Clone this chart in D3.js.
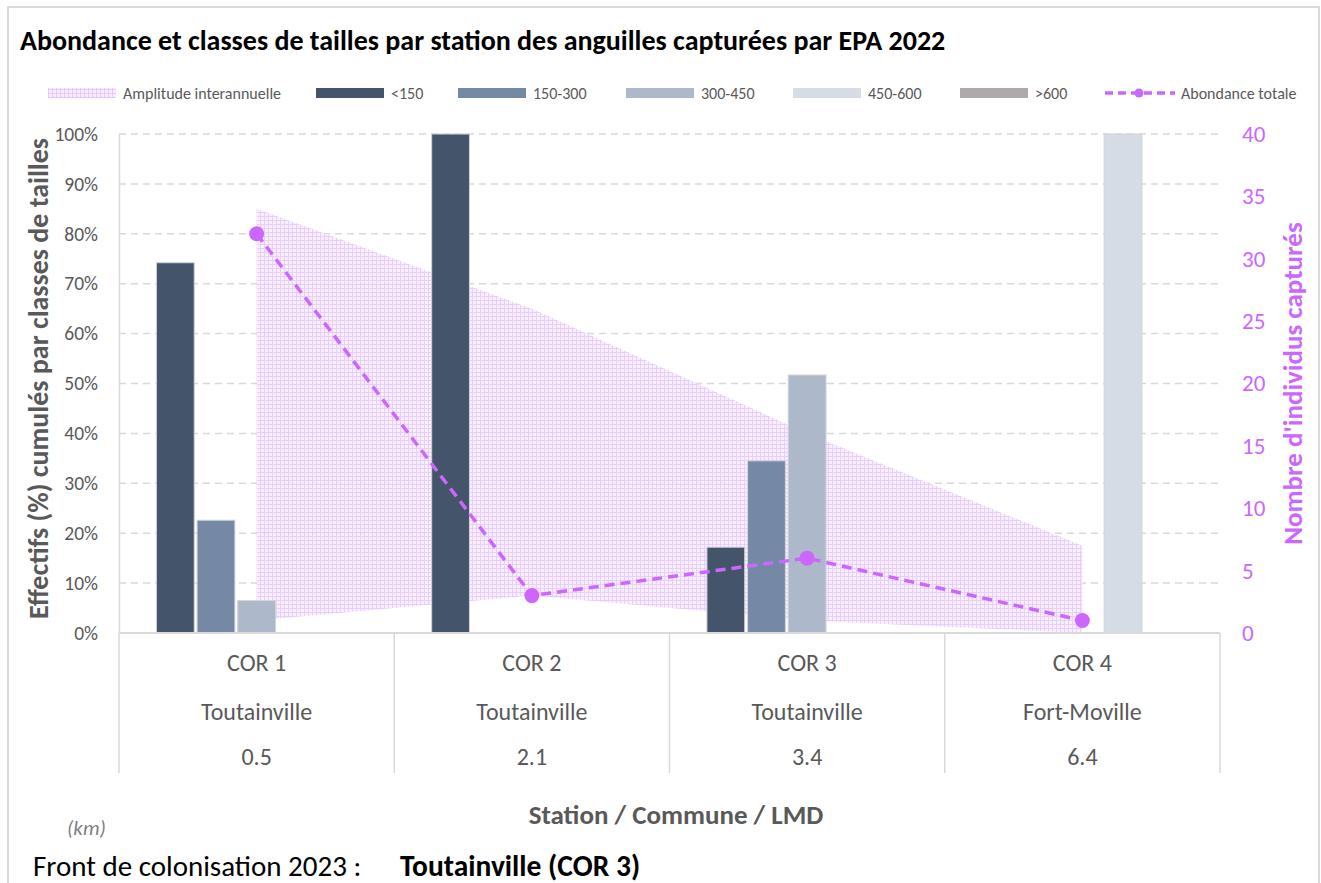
<!DOCTYPE html>
<html>
<head>
<meta charset="utf-8">
<script src="https://cdn.jsdelivr.net/npm/d3@7"></script>
<style>
  body { margin: 0; background: #fff; }
  svg text { font-family: Carlito, Calibri, Lato, "Open Sans", sans-serif; }
</style>
</head>
<body>
<div id="chart"></div>
<script>
// Data
const stations = ["COR 1", "COR 2", "COR 3", "COR 4"];
const communes = ["Toutainville", "Toutainville", "Toutainville", "Fort-Moville"];
const lmd = ["0.5", "2.1", "3.4", "6.4"];
const sizeClasses = ["<150", "150-300", "300-450", "450-600", ">600"];
const pctLt150 = [74.2, 100, 17.2, 0];
const pct150_300 = [22.6, 0, 34.5, 0];
const pct300_450 = [6.5, 0, 51.7, 0];
const pct450_600 = [0, 0, 0, 100];
const pctGt600 = [0, 0, 0, 0];
const abundance = [32, 3, 6, 1];
const amplitudeMin = [1, 3, 1, 0];
const amplitudeMax = [34, 26, 16, 7];
const leftTicks = [0, 0.1, 0.2, 0.3, 0.4, 0.5, 0.6, 0.7, 0.8, 0.9, 1];
const rightTicks = [0, 5, 10, 15, 20, 25, 30, 35, 40];

const classColors = ["#44546a", "#7589a6", "#adb9ca", "#d6dce5", "#aeaaaa"];
const purple = "#cc66ff";
const grey = "#595959";

const seriesValues = [pctLt150, pct150_300, pct300_450, pct450_600, pctGt600];
const rows = stations.map((s, i) => ({
    station: s,
    commune: communes[i],
    lmd: lmd[i],
    values: sizeClasses.map((c, k) => ({ cls: c, k, v: seriesValues[k][i] / 100 })),
    abundance: abundance[i],
    min: amplitudeMin[i],
    max: amplitudeMax[i]
}));

const width = 1321, height = 883;
const plot = { left: 119, right: 1220, top: 134, bottom: 633 };

const svg = d3.select("#chart").append("svg")
    .attr("width", width)
    .attr("height", height);

svg.append("rect").attr("width", width).attr("height", height).attr("fill", "#fff");

// Pattern for the interannual amplitude band
const defs = svg.append("defs");
const pat = defs.append("pattern")
    .attr("id", "grid")
    .attr("patternUnits", "userSpaceOnUse")
    .attr("width", 4).attr("height", 4);
pat.append("rect").attr("width", 4).attr("height", 4).attr("fill", "#f6ecfe");
pat.append("path")
    .attr("d", "M0 0.5H4M0.5 0V4")
    .attr("stroke", "#e6c8fb")
    .attr("stroke-width", 1);

// Outer frame
svg.append("rect")
    .attr("x", 8).attr("y", 7)
    .attr("width", 1311).attr("height", 920)
    .attr("fill", "none")
    .attr("stroke", "#d9d9d9")
    .attr("stroke-width", 2);

// Title
svg.append("text")
    .attr("x", 20).attr("y", 50)
    .style("font-size", "28px")
    .style("font-weight", "bold")
    .attr("fill", "#000")
    .text("Abondance et classes de tailles par station des anguilles capturées par EPA 2022");

// Scales
const x0 = d3.scaleBand()
    .domain(stations)
    .range([plot.left, plot.right]);

const groupWidth = x0.bandwidth() * 0.728;
const x1 = d3.scaleBand()
    .domain(sizeClasses)
    .range([0, groupWidth])
    .paddingInner(0.07);

const yL = d3.scaleLinear().domain([0, 1]).range([plot.bottom, plot.top]);
const yR = d3.scaleLinear().domain([0, 40]).range([plot.bottom, plot.top]);

const cx = d => x0(d.station) + x0.bandwidth() / 2;

// Gridlines
svg.append("g")
    .selectAll("line")
    .data(leftTicks.filter(t => t > 0))
    .join("line")
    .attr("x1", plot.left).attr("x2", plot.right)
    .attr("y1", d => yL(d)).attr("y2", d => yL(d))
    .attr("stroke", "#d9d9d9")
    .attr("stroke-width", 1.5)
    .attr("stroke-dasharray", "7,5");

// Amplitude band
const area = d3.area()
    .x(cx)
    .y0(d => yR(d.min))
    .y1(d => yR(d.max));

svg.append("path")
    .datum(rows)
    .attr("d", area)
    .attr("fill", "url(#grid)")
    .attr("opacity", 0.9);

// Bars
svg.append("g")
    .selectAll("g")
    .data(rows)
    .join("g")
    .attr("transform", d => `translate(${cx(d) - groupWidth / 2},0)`)
    .selectAll("rect")
    .data(d => d.values.filter(v => v.v > 0))
    .join("rect")
    .attr("x", d => x1(d.cls))
    .attr("y", d => yL(d.v))
    .attr("width", x1.bandwidth())
    .attr("height", d => yL(0) - yL(d.v))
    .attr("fill", d => classColors[d.k])
    .attr("stroke", "#d0d4da")
    .attr("stroke-width", 1);

// Left axis
const leftAxis = svg.append("g")
    .attr("transform", `translate(${plot.left},0)`)
    .call(d3.axisLeft(yL).tickValues(leftTicks).tickFormat(d3.format(".0%")).tickSize(0).tickPadding(21));
leftAxis.select(".domain").attr("stroke", "#d9d9d9").attr("stroke-width", 1.5);
leftAxis.selectAll("text")
    .style("font-size", "19.5px")
    .attr("fill", grey);

// Right axis
const rightAxis = svg.append("g")
    .attr("transform", `translate(${plot.right},0)`)
    .call(d3.axisRight(yR).tickValues(rightTicks).tickSize(0).tickPadding(22));
rightAxis.select(".domain").remove();
rightAxis.selectAll("text")
    .style("font-size", "23px")
    .attr("fill", purple);

// Category axis (multi-level)
const catAxis = svg.append("g");
catAxis.append("line")
    .attr("x1", plot.left).attr("x2", plot.right)
    .attr("y1", plot.bottom).attr("y2", plot.bottom)
    .attr("stroke", "#d9d9d9").attr("stroke-width", 2);
const bounds = stations.map(s => x0(s)).concat([plot.right]);
catAxis.selectAll("line.sep")
    .data(bounds)
    .join("line")
    .attr("class", "sep")
    .attr("x1", d => d).attr("x2", d => d)
    .attr("y1", plot.bottom).attr("y2", 773)
    .attr("stroke", "#d9d9d9").attr("stroke-width", 1.5);

const labelRows = [
    { key: "station", y: 671 },
    { key: "commune", y: 720 },
    { key: "lmd", y: 765 }
];
labelRows.forEach(r => {
    catAxis.selectAll(null)
        .data(rows)
        .join("text")
        .attr("x", cx)
        .attr("y", r.y)
        .attr("text-anchor", "middle")
        .style("font-size", "24px")
        .attr("fill", grey)
        .text(d => d[r.key]);
});

// Abundance line
const line = d3.line().x(cx).y(d => yR(d.abundance));
svg.append("path")
    .datum(rows)
    .attr("d", line)
    .attr("fill", "none")
    .attr("stroke", purple)
    .attr("stroke-width", 3.5)
    .attr("stroke-dasharray", "10,6");

svg.append("g")
    .selectAll("circle")
    .data(rows)
    .join("circle")
    .attr("cx", cx)
    .attr("cy", d => yR(d.abundance))
    .attr("r", 7.5)
    .attr("fill", purple);

// Axis titles
svg.append("text")
    .attr("transform", `translate(48,${(plot.top + plot.bottom) / 2 - 5}) rotate(-90)`)
    .attr("text-anchor", "middle")
    .style("font-size", "28px")
    .style("font-weight", "bold")
    .attr("fill", grey)
    .text("Effectifs (%) cumulés par classes de tailles");

svg.append("text")
    .attr("transform", `translate(1302,${(plot.top + plot.bottom) / 2}) rotate(-90)`)
    .attr("text-anchor", "middle")
    .style("font-size", "27px")
    .style("font-weight", "bold")
    .attr("fill", purple)
    .text("Nombre d'individus capturés");

svg.append("text")
    .attr("x", 676).attr("y", 824)
    .attr("text-anchor", "middle")
    .style("font-size", "27px")
    .style("font-weight", "bold")
    .attr("fill", grey)
    .text("Station / Commune / LMD");

svg.append("text")
    .attr("x", 67).attr("y", 835)
    .style("font-size", "21px")
    .style("font-style", "italic")
    .attr("fill", "#7f7f7f")
    .text("(km)");

svg.append("text")
    .attr("x", 33).attr("y", 876)
    .style("font-size", "29px")
    .attr("fill", "#000")
    .text("Front de colonisation 2023 :");

svg.append("text")
    .attr("x", 400).attr("y", 876)
    .style("font-size", "29.5px")
    .style("font-weight", "bold")
    .attr("fill", "#000")
    .text("Toutainville (COR 3)");

// Legend
const legendItems = [
    { label: "Amplitude interannuelle", type: "pattern", x: 48 },
    { label: sizeClasses[0], type: "bar", color: classColors[0], x: 316 },
    { label: sizeClasses[1], type: "bar", color: classColors[1], x: 458 },
    { label: sizeClasses[2], type: "bar", color: classColors[2], x: 626 },
    { label: sizeClasses[3], type: "bar", color: classColors[3], x: 793 },
    { label: sizeClasses[4], type: "bar", color: classColors[4], x: 960 },
    { label: "Abondance totale", type: "line", x: 1105 }
];
const legend = svg.append("g").attr("transform", "translate(0,93)");
legendItems.forEach(d => {
    const g = legend.append("g").attr("transform", `translate(${d.x},0)`);
    if (d.type === "line") {
        g.append("line")
            .attr("x1", 0).attr("x2", 70).attr("y1", 0).attr("y2", 0)
            .attr("stroke", purple).attr("stroke-width", 3.5)
            .attr("stroke-dasharray", "8,5");
        g.append("circle").attr("cx", 34).attr("cy", 0).attr("r", 4.5).attr("fill", purple);
        g.append("text").attr("x", 76).attr("y", 6)
            .style("font-size", "16px").attr("fill", grey).text(d.label);
    } else {
        g.append("rect")
            .attr("x", 0).attr("y", -5)
            .attr("width", 68).attr("height", 10)
            .attr("fill", d.type === "pattern" ? "url(#grid)" : d.color);
        g.append("text").attr("x", 75).attr("y", 6)
            .style("font-size", "16px").attr("fill", grey).text(d.label);
    }
});
</script>
</body>
</html>
